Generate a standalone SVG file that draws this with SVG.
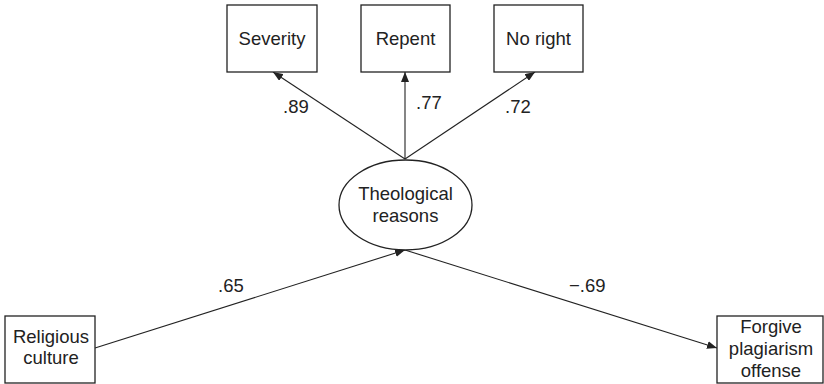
<svg xmlns="http://www.w3.org/2000/svg" width="824" height="384" viewBox="0 0 824 384">
<style>
.box{fill:#fff;stroke:#222;stroke-width:1.3}
.t{font-family:"Liberation Sans",Arial,sans-serif;font-size:18.5px;fill:#222;text-anchor:middle}
.lbl{font-family:"Liberation Sans",Arial,sans-serif;font-size:18.5px;fill:#222}
.edge{stroke:#222;stroke-width:1.1;fill:none;marker-end:url(#ah)}
</style>
<defs>
<marker id="ah" viewBox="0 0 10 8" refX="10" refY="4" markerWidth="10" markerHeight="8" markerUnits="userSpaceOnUse" orient="auto">
<path d="M0,0 L10,4 L0,8 Z" fill="#222"/>
</marker>
</defs>
<rect width="824" height="384" fill="#fff"/>
<g id="connectors">
<line class="edge" x1="405" y1="159" x2="273" y2="72"/>
<line class="edge" x1="405" y1="159" x2="405" y2="72"/>
<line class="edge" x1="405" y1="159" x2="535" y2="72"/>
<line class="edge" x1="95" y1="348" x2="405" y2="250"/>
<line class="edge" x1="405" y1="250" x2="717" y2="348"/>
<text class="lbl" x="283" y="113">.89</text>
<text class="lbl" x="416" y="109">.77</text>
<text class="lbl" x="505" y="113">.72</text>
<text class="lbl" x="218" y="292">.65</text>
<text class="lbl" x="569" y="292">−.69</text>
</g>
<g id="severity">
<rect class="box" x="227" y="5" width="90" height="67"/>
<text class="t" x="272" y="45">Severity</text>
</g>
<g id="repent">
<rect class="box" x="361" y="5" width="89" height="67"/>
<text class="t" x="405.5" y="45">Repent</text>
</g>
<g id="noright">
<rect class="box" x="494" y="5" width="89" height="67"/>
<text class="t" x="538.5" y="45">No right</text>
</g>
<g id="theological">
<ellipse class="box" cx="405.5" cy="205" rx="66.5" ry="45"/>
<text class="t" x="405.5" y="200">Theological</text>
<text class="t" x="405.5" y="222">reasons</text>
</g>
<g id="religious">
<rect class="box" x="5" y="316" width="90" height="67"/>
<text class="t" x="51" y="343">Religious</text>
<text class="t" x="51" y="364">culture</text>
</g>
<g id="forgive">
<rect class="box" x="717" y="316" width="106" height="67"/>
<text class="t" x="771" y="333">Forgive</text>
<text class="t" x="771" y="355">plagiarism</text>
<text class="t" x="771" y="377">offense</text>
</g>
</svg>
